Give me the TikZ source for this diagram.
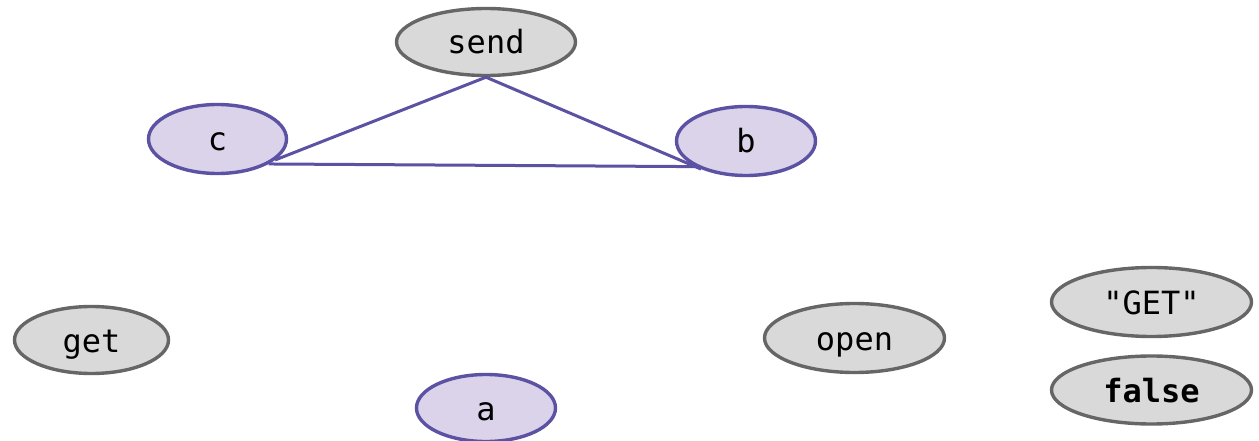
\documentclass[tikz,border=0pt]{standalone}
\usepackage{fontspec}
\setmonofont{DejaVu Sans Mono}
\usetikzlibrary{shapes.geometric}
\definecolor{grayfill}{HTML}{D9D9D9}
\definecolor{graydraw}{HTML}{666666}
\definecolor{violetfill}{HTML}{DAD3EA}
\definecolor{violetdraw}{HTML}{5B52A3}
\tikzset{
  term/.style={ellipse, inner sep=0pt, line width=3.4pt,
    text height=30pt, text depth=6pt,
    font=\fontsize{32}{32}\selectfont\ttfamily, text=black},
  literalbox/.style={term, draw=graydraw, fill=grayfill},
  varbox/.style={term, draw=violetdraw, fill=violetfill},
  link/.style={draw=violetdraw, line width=3pt}
}
\begin{document}
\begin{tikzpicture}[x=1pt, y=-1pt]
  \useasboundingbox (0,0) rectangle (1259,441);
  % literal values and function names
  \node[literalbox, minimum width=179pt, minimum height=67pt] (send) at (486,42) {send};
  \node[literalbox, minimum width=154pt, minimum height=67pt] (get) at (91.5,340) {get};
  \node[literalbox, minimum width=180pt, minimum height=69pt] (open) at (854.5,338) {open};
  \node[literalbox, minimum width=200pt, minimum height=69pt] (getstr) at (1151.5,302) {"GET"};
  \node[literalbox, minimum width=200pt, minimum height=68pt] (false) at (1151.5,390) {\bfseries false};
  % variables
  \node[varbox, minimum width=138pt, minimum height=69pt] (c) at (217.5,139) {c};
  \node[varbox, minimum width=139pt, minimum height=69pt] (b) at (746,141) {b};
  \node[varbox, minimum width=139pt, minimum height=67pt] (a) at (486,408) {a};
  % connections
  \path[link] (send.south) -- (c.-20);
  \path[link] (send.south) -- (b.-148);
  \path[link] (c.-26) -- (b.-153);
\end{tikzpicture}
\end{document}
